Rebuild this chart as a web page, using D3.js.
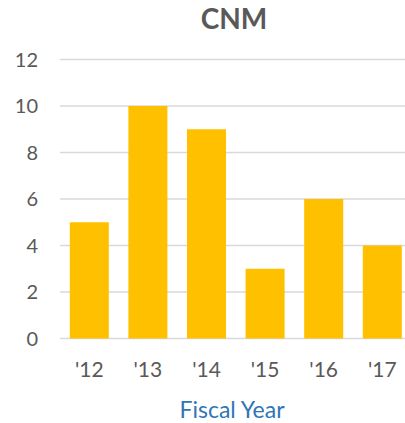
<!DOCTYPE html>
<html>
<head>
<meta charset="utf-8">
<script src="https://cdn.jsdelivr.net/npm/d3@7"></script>
<style>
  body { margin: 0; background: #fff; }
  text { font-family: Lato, "Open Sans", sans-serif; }
</style>
</head>
<body>
<div id="chart"></div>
<script>
// data
var years = ["'12", "'13", "'14", "'15", "'16", "'17"];
var counts = [5, 10, 9, 3, 6, 4];
var yTicks = [0, 2, 4, 6, 8, 10, 12];

var width = 405, height = 423;
var margin = { top: 59.5, left: 60, bottom: 84.5 };

var svg = d3.select("#chart").append("svg")
  .attr("width", width)
  .attr("height", height);

var x = d3.scaleBand()
  .domain(years)
  .range([margin.left, margin.left + 6 * 58.6])
  .paddingInner(0.334)
  .paddingOuter(0.167);

var y = d3.scaleLinear()
  .domain([0, 12])
  .range([height - margin.bottom, margin.top]);

// gridlines
svg.append("g").selectAll("line")
  .data(yTicks)
  .enter().append("line")
  .attr("x1", margin.left)
  .attr("x2", width)
  .attr("y1", function(d) { return y(d); })
  .attr("y2", function(d) { return y(d); })
  .attr("stroke", "#d9d9d9")
  .attr("stroke-width", 1.5);

// y labels
svg.append("g").selectAll("text")
  .data(yTicks)
  .enter().append("text")
  .attr("x", 38)
  .attr("y", function(d) { return y(d); })
  .attr("dy", "0.36em")
  .attr("text-anchor", "end")
  .attr("fill", "#595959")
  .style("font-size", "20px")
  .text(function(d) { return d; });

// bars
svg.append("g").selectAll("rect")
  .data(counts)
  .enter().append("rect")
  .attr("x", function(d, i) { return x(years[i]); })
  .attr("width", x.bandwidth())
  .attr("y", function(d) { return y(d); })
  .attr("height", function(d) { return y(0) - y(d); })
  .attr("fill", "#ffc000");

// x labels
svg.append("g").selectAll("text")
  .data(years)
  .enter().append("text")
  .attr("x", function(d) { return x(d) + x.bandwidth() / 2; })
  .attr("y", 377)
  .attr("text-anchor", "middle")
  .attr("fill", "#595959")
  .style("font-size", "21px")
  .text(function(d) { return d; });

// title
svg.append("text")
  .attr("x", 234)
  .attr("y", 29)
  .attr("text-anchor", "middle")
  .attr("fill", "#595959")
  .style("font-size", "28px")
  .style("font-weight", "bold")
  .text("CNM");

// axis title
svg.append("text")
  .attr("x", 232)
  .attr("y", 418)
  .attr("text-anchor", "middle")
  .attr("fill", "#2e75b6")
  .style("font-size", "23px")
  .text("Fiscal Year");
</script>
</body>
</html>
